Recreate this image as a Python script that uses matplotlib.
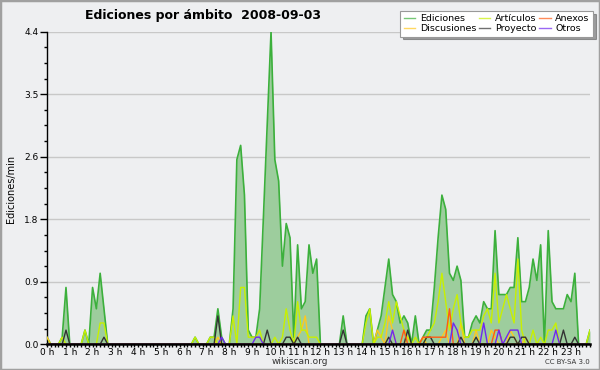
import matplotlib
matplotlib.use("Agg")
import matplotlib.pyplot as plt
from matplotlib.patches import Rectangle
from matplotlib.ticker import FixedLocator, MultipleLocator
import numpy as np

# edits per minute, one value per 10 minutes (144 slots)
ediciones = [
    0.1, 0, 0, 0, 0.1, 0.8, 0, 0, 0, 0, 0.2, 0,
    0.8, 0.5, 1.0, 0.5, 0, 0, 0, 0, 0, 0, 0, 0,
    0, 0, 0, 0, 0, 0, 0, 0, 0, 0, 0, 0,
    0, 0, 0, 0.1, 0, 0, 0, 0.1, 0.1, 0.5, 0.1, 0,
    0, 0.5, 2.6, 2.8, 2.1, 0.2, 0.1, 0.1, 0.5, 1.8, 3.1, 4.4,
    2.6, 2.3, 1.1, 1.7, 1.5, 0.1, 1.4, 0.5, 0.6, 1.4, 1.0, 1.2,
    0, 0, 0, 0, 0, 0, 0.4, 0, 0, 0, 0, 0,
    0.4, 0.5, 0, 0.2, 0.4, 0.8, 1.2, 0.7, 0.6, 0.3, 0.4, 0.3,
    0, 0.4, 0, 0.1, 0.2, 0.2, 0.8, 1.5, 2.1, 1.9, 1.0, 0.9,
    1.1, 0.9, 0.1, 0.1, 0.3, 0.4, 0.3, 0.6, 0.5, 0.5, 1.6, 0.7,
    0.7, 0.7, 0.8, 0.8, 1.5, 0.6, 0.6, 0.8, 1.2, 0.9, 1.4, 0,
    1.6, 0.6, 0.5, 0.5, 0.5, 0.7, 0.6, 1.0, 0, 0, 0, 0.2,
]
articulos = [
    0, 0, 0, 0, 0.1, 0, 0, 0, 0, 0, 0.2, 0,
    0, 0, 0.3, 0.3, 0, 0, 0, 0, 0, 0, 0, 0,
    0, 0, 0, 0, 0, 0, 0, 0, 0, 0, 0, 0,
    0, 0, 0, 0.1, 0, 0, 0, 0.1, 0.1, 0, 0, 0,
    0, 0.4, 0, 0.8, 0.8, 0.1, 0.1, 0.1, 0.2, 0, 0, 0,
    0.1, 0, 0.1, 0.5, 0.2, 0, 0.6, 0.2, 0.2, 0.1, 0.1, 0.1,
    0, 0, 0, 0, 0, 0, 0, 0, 0, 0, 0, 0,
    0.3, 0.5, 0, 0.1, 0.1, 0.3, 0.6, 0.3, 0.6, 0.4, 0.2, 0.1,
    0, 0.1, 0, 0, 0.1, 0.2, 0.3, 0.6, 1.0, 0.6, 0.2, 0.5,
    0.7, 0.3, 0.1, 0.1, 0.2, 0.2, 0.2, 0.4, 0.5, 0.3, 1.0, 0.3,
    0.5, 0.7, 0.5, 0.3, 1.2, 0.2, 0, 0, 0.2, 0, 0.1, 0,
    0.2, 0.2, 0.3, 0, 0, 0, 0, 0, 0, 0, 0, 0.2,
]
anexos = [
    0, 0, 0, 0, 0, 0, 0, 0, 0, 0, 0, 0,
    0, 0, 0, 0, 0, 0, 0, 0, 0, 0, 0, 0,
    0, 0, 0, 0, 0, 0, 0, 0, 0, 0, 0, 0,
    0, 0, 0, 0, 0, 0, 0, 0, 0, 0, 0, 0,
    0, 0, 0, 0, 0, 0, 0, 0, 0, 0, 0, 0,
    0, 0, 0, 0, 0, 0, 0, 0, 0, 0, 0, 0,
    0, 0, 0, 0, 0, 0, 0, 0, 0, 0, 0, 0,
    0, 0, 0, 0, 0, 0, 0, 0, 0, 0, 0.2, 0,
    0, 0, 0, 0.1, 0.1, 0.1, 0.1, 0.1, 0.1, 0.1, 0.5, 0,
    0, 0, 0, 0, 0, 0, 0, 0, 0, 0, 0.2, 0.2,
    0, 0, 0, 0, 0, 0, 0, 0, 0, 0, 0, 0,
    0, 0, 0, 0, 0, 0, 0, 0, 0, 0, 0, 0,
]
discusiones = [
    0.1, 0, 0, 0, 0, 0, 0, 0, 0, 0, 0, 0,
    0, 0, 0, 0, 0, 0, 0, 0, 0, 0, 0, 0,
    0, 0, 0, 0, 0, 0, 0, 0, 0, 0, 0, 0,
    0, 0, 0, 0, 0, 0, 0, 0, 0, 0.1, 0, 0,
    0, 0, 0, 0, 0, 0, 0, 0, 0, 0, 0, 0,
    0, 0, 0, 0, 0, 0, 0.1, 0.2, 0.4, 0, 0, 0,
    0, 0, 0, 0, 0, 0, 0, 0, 0, 0, 0, 0,
    0, 0, 0, 0.2, 0.1, 0, 0.4, 0.2, 0, 0, 0, 0.1,
    0, 0, 0, 0.1, 0, 0, 0, 0, 0.1, 0.2, 0, 0,
    0, 0.3, 0, 0, 0, 0.2, 0, 0, 0, 0.2, 0.1, 0,
    0, 0, 0.2, 0.1, 0, 0, 0.1, 0, 0, 0, 0, 0,
    0, 0, 0, 0, 0, 0, 0, 0, 0, 0, 0, 0,
]
proyecto = [
    0, 0, 0, 0, 0, 0.2, 0, 0, 0, 0, 0, 0,
    0, 0, 0, 0.1, 0, 0, 0, 0, 0, 0, 0, 0,
    0, 0, 0, 0, 0, 0, 0, 0, 0, 0, 0, 0,
    0, 0, 0, 0, 0, 0, 0, 0, 0, 0.4, 0, 0,
    0, 0, 0, 0, 0, 0, 0, 0, 0, 0, 0.2, 0,
    0, 0, 0, 0.1, 0.1, 0, 0.1, 0, 0, 0, 0, 0,
    0, 0, 0, 0, 0, 0, 0.2, 0, 0, 0, 0, 0,
    0, 0, 0, 0, 0, 0, 0.1, 0, 0, 0, 0, 0.2,
    0, 0, 0, 0, 0.1, 0.1, 0, 0, 0, 0, 0, 0,
    0, 0.1, 0, 0, 0, 0.1, 0, 0, 0, 0, 0, 0,
    0, 0, 0.1, 0.1, 0, 0.1, 0.1, 0, 0, 0, 0, 0,
    0, 0, 0, 0, 0.2, 0, 0, 0.1, 0, 0, 0, 0,
]
otros = [
    0, 0, 0, 0, 0, 0, 0, 0, 0, 0, 0, 0,
    0, 0, 0, 0, 0, 0, 0, 0, 0, 0, 0, 0,
    0, 0, 0, 0, 0, 0, 0, 0, 0, 0, 0, 0,
    0, 0, 0, 0, 0, 0, 0, 0, 0, 0, 0.1, 0,
    0, 0, 0, 0, 0, 0, 0, 0.1, 0.1, 0, 0, 0,
    0, 0, 0, 0, 0, 0, 0, 0, 0, 0, 0, 0,
    0, 0, 0, 0, 0, 0, 0, 0, 0, 0, 0, 0,
    0, 0, 0, 0, 0, 0, 0, 0.2, 0, 0, 0, 0,
    0, 0, 0, 0, 0, 0, 0, 0, 0, 0, 0, 0.3,
    0.2, 0, 0, 0, 0, 0, 0, 0.3, 0, 0, 0, 0.2,
    0, 0.1, 0.2, 0.2, 0.2, 0, 0, 0, 0, 0, 0, 0,
    0, 0, 0.2, 0, 0, 0, 0, 0, 0, 0, 0, 0,
]
hour_labels = [f"{h} h" for h in range(24)]
ytick_values = [0, 0.88, 1.76, 2.64, 3.52, 4.4]

BG = "#eeeff1"
plt.rcParams["font.family"] = "DejaVu Sans"

fig = plt.figure(figsize=(6, 3.7), dpi=100, facecolor=BG)
ax = fig.add_axes([47 / 600, 1 - 344.3 / 370, 543 / 600, 312.6 / 370])
ax.set_facecolor(BG)

slots = np.arange(len(ediciones))
ax.fill_between(slots, 0, ediciones, color="#9dcd9d", lw=0, zorder=1)
ax.plot(slots, ediciones, color="#3cb03c", lw=1.2, label="Ediciones", zorder=3)
ax.plot(slots, discusiones, color="#ffc81e", lw=1, label="Discusiones", zorder=3)
ax.plot(slots, articulos, color="#c8f000", lw=1, label="Artículos", zorder=3)
ax.plot(slots, proyecto, color="#333333", lw=1, label="Proyecto", zorder=3)
ax.plot(slots, anexos, color="#ff5a14", lw=1, label="Anexos", zorder=3)
ax.plot(slots, otros, color="#7028f0", lw=1, label="Otros", zorder=3)

ax.set_xlim(0, len(ediciones) - 1)
ax.set_ylim(0, 4.4)

ax.yaxis.set_major_locator(FixedLocator(ytick_values))
ax.set_yticklabels([f"{v:.1f}" for v in ytick_values])
ax.yaxis.set_minor_locator(MultipleLocator(0.22))
ax.xaxis.set_major_locator(FixedLocator(np.arange(24) * 6))
ax.set_xticklabels(hour_labels)
ax.xaxis.set_minor_locator(MultipleLocator(1))

ax.tick_params(axis="y", which="major", length=5, width=1, labelsize=6.5, pad=1)
ax.tick_params(axis="y", which="minor", length=2.5, width=1)
ax.tick_params(axis="x", which="major", length=2.5, width=1, labelsize=6.5, pad=0)
ax.tick_params(axis="x", which="minor", length=2.5, width=1)

ax.grid(axis="y", color="#c8c8c8", lw=1)
ax.set_axisbelow(True)
for side in ["top", "right"]:
    ax.spines[side].set_visible(False)
ax.spines["bottom"].set_linewidth(1.8)
ax.spines["left"].set_linewidth(1)
ax.spines["bottom"].set_zorder(4)

fig.text(0.142, 1 - 16 / 370, "Ediciones por ámbito  2008-09-03",
         fontsize=9, fontweight="bold", va="center", ha="left")
fig.text(11 / 600, 0.49, "Ediciones/min", rotation=90, fontsize=7,
         va="center", ha="center")
fig.text(0.5, 1 - 362 / 370, "wikiscan.org", fontsize=6.5, color="#333333",
         ha="center", va="center")
fig.text(590 / 600, 1 - 362.5 / 370, "CC BY-SA 3.0", fontsize=5, color="#333333",
         ha="right", va="center")

leg = fig.legend(loc="upper right", bbox_to_anchor=(593 / 600, 1 - 11 / 370),
                 ncol=3, frameon=True, fancybox=False, shadow=True,
                 handlelength=1.2, handletextpad=0.5, columnspacing=0.3,
                 labelspacing=0.1, borderpad=0.35, borderaxespad=0,
                 prop=dict(size=6.8))
leg.get_frame().set_edgecolor("#999999")
leg.get_frame().set_linewidth(0.8)
for line in leg.get_lines():
    line.set_linewidth(1)
    line.set_alpha(0.7)

fig.patches.append(Rectangle((0, 0), 1, 1, transform=fig.transFigure,
                             fill=False, edgecolor="#a0a0a0", lw=2.5))

fig.savefig("out.png", dpi=100, facecolor=BG)
